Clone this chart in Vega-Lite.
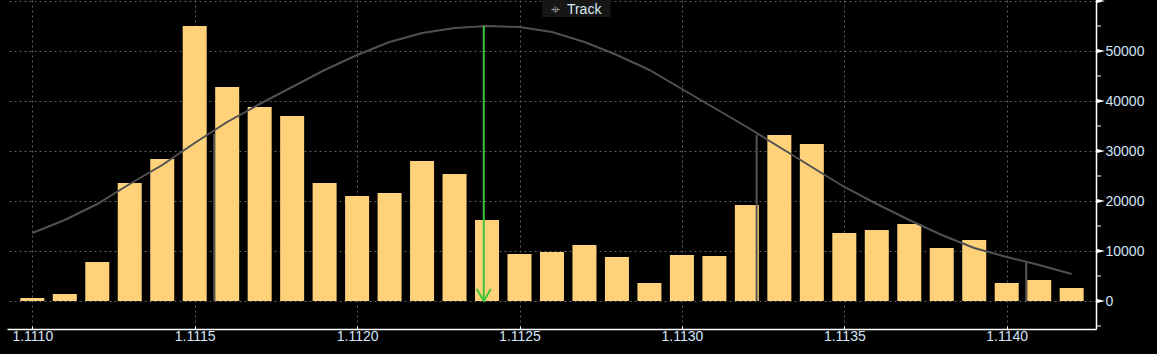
{
  "$schema": "https://vega.github.io/schema/vega-lite/v6.json",
  "width": 1089,
  "height": 329,
  "autosize": {"type": "none"},
  "padding": {"left": 7, "top": 0, "right": 61, "bottom": 25},
  "background": "#000000",
  "config": {"view": {"stroke": null}, "font": "Liberation Sans"},
  "datasets": {
    "hist": [
      {"price": 1.1110, "volume": 600, "fit": 13600},
      {"price": 1.1111, "volume": 1400, "fit": 16200},
      {"price": 1.1112, "volume": 7800, "fit": 19400},
      {"price": 1.1113, "volume": 23600, "fit": 23400},
      {"price": 1.1114, "volume": 28400, "fit": 27200},
      {"price": 1.1115, "volume": 55000, "fit": 31600},
      {"price": 1.1116, "volume": 42800, "fit": 35800},
      {"price": 1.1117, "volume": 38800, "fit": 39400},
      {"price": 1.1118, "volume": 37000, "fit": 42800},
      {"price": 1.1119, "volume": 23600, "fit": 46200},
      {"price": 1.1120, "volume": 21000, "fit": 49200},
      {"price": 1.1121, "volume": 21600, "fit": 51800},
      {"price": 1.1122, "volume": 28000, "fit": 53600},
      {"price": 1.1123, "volume": 25400, "fit": 54600},
      {"price": 1.1124, "volume": 16200, "fit": 55000},
      {"price": 1.1125, "volume": 9400, "fit": 54800},
      {"price": 1.1126, "volume": 9800, "fit": 53800},
      {"price": 1.1127, "volume": 11200, "fit": 51800},
      {"price": 1.1128, "volume": 8800, "fit": 49200},
      {"price": 1.1129, "volume": 3600, "fit": 46200},
      {"price": 1.1130, "volume": 9200, "fit": 42400},
      {"price": 1.1131, "volume": 9000, "fit": 38600},
      {"price": 1.1132, "volume": 19200, "fit": 34800},
      {"price": 1.1133, "volume": 33200, "fit": 30800},
      {"price": 1.1134, "volume": 31400, "fit": 26800},
      {"price": 1.1135, "volume": 13600, "fit": 22800},
      {"price": 1.1136, "volume": 14200, "fit": 19400},
      {"price": 1.1137, "volume": 15400, "fit": 16200},
      {"price": 1.1138, "volume": 10600, "fit": 13200},
      {"price": 1.1139, "volume": 12200, "fit": 10600},
      {"price": 1.1140, "volume": 3600, "fit": 8800},
      {"price": 1.1141, "volume": 4200, "fit": 7200},
      {"price": 1.1142, "volume": 2600, "fit": 5400}
    ],
    "markers": [
      {"price": 1.11156, "top": 33400, "base": 0},
      {"price": 1.11323, "top": 33200, "base": 0},
      {"price": 1.11406, "top": 7600, "base": 0}
    ],
    "arrow": [{"price": 1.11239, "top": 55000, "base": 0}],
    "majorTicks": [
      {"v": 0}, {"v": 10000}, {"v": 20000}, {"v": 30000}, {"v": 40000}, {"v": 50000}, {"v": 60000}
    ],
    "minorTicks": [
      {"v": -5000}, {"v": 5000}, {"v": 15000}, {"v": 25000}, {"v": 35000}, {"v": 45000}, {"v": 55000}
    ],
    "axisEnd": [{"xe": 1.1142749}],
    "track": [{"x1": 1.112569, "x2": 1.112780, "y1": 56800, "y2": 60200, "ix": 1.112612, "tx": 1.112646, "ty": 58200}]
  },
  "layer": [
    {
      "data": {"name": "hist"},
      "mark": {"type": "bar", "width": 24, "color": "#ffd27a"},
      "encoding": {
        "x": {
          "field": "price", "type": "quantitative", "title": null,
          "scale": {"domain": [1.1109221, 1.1142749], "nice": false, "zero": false, "padding": 0},
          "axis": {
            "orient": "bottom", "title": null,
            "values": [1.1110, 1.1115, 1.1120, 1.1125, 1.1130, 1.1135, 1.1140],
            "format": ".4f", "labelColor": "#d3e5f7", "labelFontSize": 14, "labelPadding": 3,
            "labelFlush": false,
            "domainColor": "#ffffff", "domainWidth": 1.5,
            "tickColor": "#ffffff", "tickSize": -3,
            "gridColor": "#606060", "gridDash": [2, 3], "gridWidth": 1
          }
        },
        "y": {
          "field": "volume", "type": "quantitative", "title": null,
          "scale": {"domain": [-5600, 60200], "nice": false, "zero": false, "padding": 0},
          "axis": {
            "orient": "right", "title": null,
            "values": [0, 10000, 20000, 30000, 40000, 50000, 60000],
            "labelExpr": "datum.value >= 60000 ? '' : format(datum.value, 'd')",
            "labelColor": "#d3e5f7", "labelFontSize": 14, "labelPadding": 9,
            "labelBaseline": "middle",
            "domainColor": "#ffffff", "domainWidth": 1.5,
            "tickSize": 0,
            "gridColor": "#606060", "gridDash": [2, 3], "gridWidth": 1
          }
        }
      }
    },
    {
      "data": {"name": "hist"},
      "mark": {"type": "line", "color": "#505050", "strokeWidth": 2},
      "encoding": {
        "x": {"field": "price", "type": "quantitative", "title": null},
        "y": {"field": "fit", "type": "quantitative", "title": null}
      }
    },
    {
      "data": {"name": "markers"},
      "mark": {"type": "rule", "color": "#555555", "strokeWidth": 2},
      "encoding": {
        "x": {"field": "price", "type": "quantitative", "title": null},
        "y": {"field": "base", "type": "quantitative", "title": null},
        "y2": {"field": "top"}
      }
    },
    {
      "data": {"name": "arrow"},
      "mark": {"type": "rule", "color": "#3cc43c", "strokeWidth": 2},
      "encoding": {
        "x": {"field": "price", "type": "quantitative", "title": null},
        "y": {"field": "base", "type": "quantitative", "title": null},
        "y2": {"field": "top"}
      }
    },
    {
      "data": {"name": "arrow"},
      "mark": {"type": "point", "shape": "M-1,-1.7L0,0L1,-1.7", "size": 196, "filled": false, "stroke": "#3cc43c", "strokeWidth": 2, "opacity": 1},
      "encoding": {
        "x": {"field": "price", "type": "quantitative", "title": null},
        "y": {"field": "base", "type": "quantitative", "title": null}
      }
    },
    {
      "data": {"name": "majorTicks"},
      "transform": [{"lookup": "dummy", "from": {"data": {"name": "axisEnd"}, "key": "k", "fields": ["xe"]}, "default": 1.1142749}],
      "mark": {"type": "point", "shape": "M0,-0.25L1,0L0,0.25Z", "size": 324, "filled": true, "color": "#ffffff", "opacity": 1},
      "encoding": {
        "x": {"field": "xe", "type": "quantitative", "title": null},
        "y": {"field": "v", "type": "quantitative", "title": null}
      }
    },
    {
      "data": {"name": "minorTicks"},
      "transform": [{"lookup": "dummy", "from": {"data": {"name": "axisEnd"}, "key": "k", "fields": ["xe"]}, "default": 1.1142749}],
      "mark": {"type": "point", "shape": "M0,0L1,0", "size": 100, "filled": false, "stroke": "#ffffff", "strokeWidth": 1, "opacity": 1},
      "encoding": {
        "x": {"field": "xe", "type": "quantitative", "title": null},
        "y": {"field": "v", "type": "quantitative", "title": null}
      }
    },
    {
      "data": {"name": "track"},
      "mark": {"type": "rect", "color": "#161616"},
      "encoding": {
        "x": {"field": "x1", "type": "quantitative", "title": null},
        "x2": {"field": "x2"},
        "y": {"field": "y1", "type": "quantitative", "title": null},
        "y2": {"field": "y2"}
      }
    },
    {
      "data": {"name": "track"},
      "mark": {"type": "text", "text": "⌖", "font": "DejaVu Sans", "fontSize": 16, "color": "#8a8a8a", "align": "center", "baseline": "middle"},
      "encoding": {
        "x": {"field": "ix", "type": "quantitative", "title": null},
        "y": {"field": "ty", "type": "quantitative", "title": null}
      }
    },
    {
      "data": {"name": "track"},
      "mark": {"type": "text", "text": "Track", "fontSize": 14, "color": "#dde9f5", "align": "left", "baseline": "middle"},
      "encoding": {
        "x": {"field": "tx", "type": "quantitative", "title": null},
        "y": {"field": "ty", "type": "quantitative", "title": null}
      }
    }
  ]
}
